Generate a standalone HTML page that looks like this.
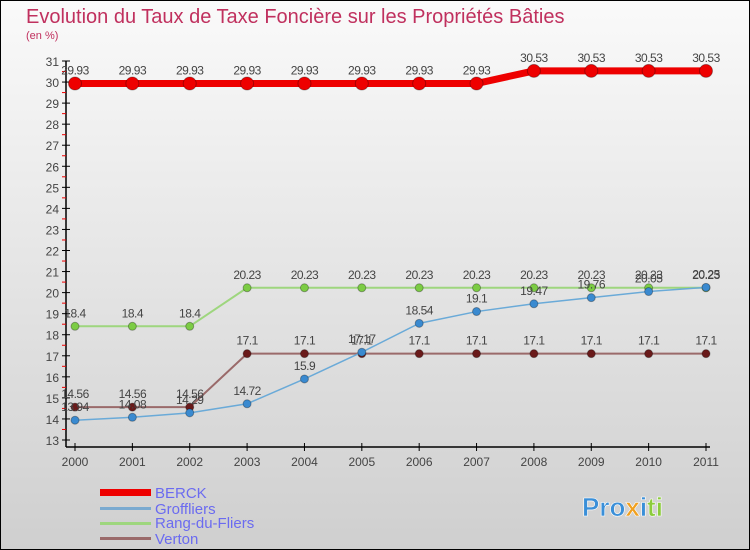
<!DOCTYPE html>
<html><head><meta charset="utf-8"><style>
body{margin:0;}
svg{display:block;font-family:"Liberation Sans",sans-serif;}
</style></head><body>
<svg id="c" width="750" height="550">
<defs><linearGradient id="bg" x1="0" y1="0" x2="0" y2="1"><stop offset="0" stop-color="#fafafa"/><stop offset="1" stop-color="#cfcfcf"/></linearGradient></defs>
<rect x="0.5" y="0.5" width="749" height="549" fill="url(#bg)" stroke="#000"/>
<text x="26" y="23" font-size="20" fill="#c0305e">Evolution du Taux de Taxe Foncière sur les Propriétés Bâties</text>
<text x="26" y="39" font-size="11" fill="#c0305e">(en %)</text>
<g id="axes"></g><g id="series"></g>
<g>
<rect x="100" y="489" width="51" height="7" fill="#e00"/>
<text x="155" y="498" font-size="15" fill="#6b6bf0">BERCK</text>
<rect x="100" y="507" width="51" height="3" fill="#7aaad0"/>
<text x="155" y="514" font-size="15" fill="#6b6bf0">Groffliers</text>
<rect x="100" y="522" width="51" height="3" fill="#9ed67e"/>
<text x="155" y="528" font-size="15" fill="#6b6bf0">Rang-du-Fliers</text>
<rect x="100" y="537" width="51" height="3" fill="#9a6a6a"/>
<text x="155" y="544" font-size="15" fill="#6b6bf0">Verton</text>
</g>
<g font-size="26" font-weight="bold" stroke="#fff" stroke-width="0.6">
<text x="582" y="516" fill="#3a8fd8">Pro<tspan fill="#f0a020">x</tspan><tspan fill="#3a8fd8">i</tspan><tspan fill="#8ccc3c">ti</tspan></text>
</g>
</svg>
<script>
const years=[2000,2001,2002,2003,2004,2005,2006,2007,2008,2009,2010,2011];
const berck=[29.93,29.93,29.93,29.93,29.93,29.93,29.93,29.93,30.53,30.53,30.53,30.53];
const groffliers=[13.94,14.08,14.29,14.72,15.9,17.17,18.54,19.1,19.47,19.76,20.05,20.25];
const rang=[18.4,18.4,18.4,20.23,20.23,20.23,20.23,20.23,20.23,20.23,20.23,20.23];
const verton=[14.56,14.56,14.56,17.1,17.1,17.1,17.1,17.1,17.1,17.1,17.1,17.1];
const yTicks=[13,14,15,16,17,18,19,20,21,22,23,24,25,26,27,28,29,30,31];
const NS="http://www.w3.org/2000/svg";
const x=i=>75+i*(706-75)/(years.length-1);
const y=v=>440-(v-13)*(440-61)/18;
function mk(t,a,p){const e=document.createElementNS(NS,t);for(const k in a)e.setAttribute(k,a[k]);p.appendChild(e);return e;}
const ax=document.getElementById('axes');
mk('line',{x1:66,y1:61,x2:66,y2:447,stroke:'#000','stroke-width':1.5},ax);
mk('line',{x1:66,y1:447,x2:710,y2:447,stroke:'#000','stroke-width':1.5},ax);
yTicks.forEach(v=>{
 mk('line',{x1:62,y1:y(v),x2:70,y2:y(v),stroke:'#000'},ax);
 if(v<31)mk('line',{x1:62,y1:y(v+0.5),x2:66,y2:y(v+0.5),stroke:'#e00'},ax);
 const t=mk('text',{x:59,y:y(v)+5,'font-size':12,fill:'#444','text-anchor':'end'},ax);
 
 
 t.textContent=v;
});
years.forEach((yr,i)=>{
 mk('line',{x1:x(i),y1:443,x2:x(i),y2:451,stroke:'#000'},ax);
 const t=mk('text',{x:x(i),y:466,'font-size':12,fill:'#444','text-anchor':'middle'},ax);
 
 
 t.textContent=yr;
});
const sg=document.getElementById('series');
function draw(name,vals,color,w,r,dot){
 const g=mk('g',{},sg);
 
 
 mk('polyline',{points:vals.map((v,i)=>x(i)+','+y(v)).join(' '),fill:'none',stroke:color,'stroke-width':w},g);
 vals.forEach((v,i)=>{
  const c=mk('circle',{cx:x(i),cy:y(v),r:r,fill:dot,stroke:'rgba(0,0,0,0.3)'},g);
  
  
  const t=mk('text',{x:x(i),y:y(v)-9,'font-size':12,fill:'#444','text-anchor':'middle','letter-spacing':'-0.5'},g);
  
  
  t.textContent=v;
 });
}
draw('rang-du-fliers',rang,'#9ed67e',2,4,'#7ccc44');
draw('verton',verton,'#9a6a6a',2,4,'#6a1a1a');
draw('groffliers',groffliers,'#6aaad8',1.5,4,'#3a8ad0');
draw('berck',berck,'#e00',7,6.5,'#e00');
</script>
</body></html>
